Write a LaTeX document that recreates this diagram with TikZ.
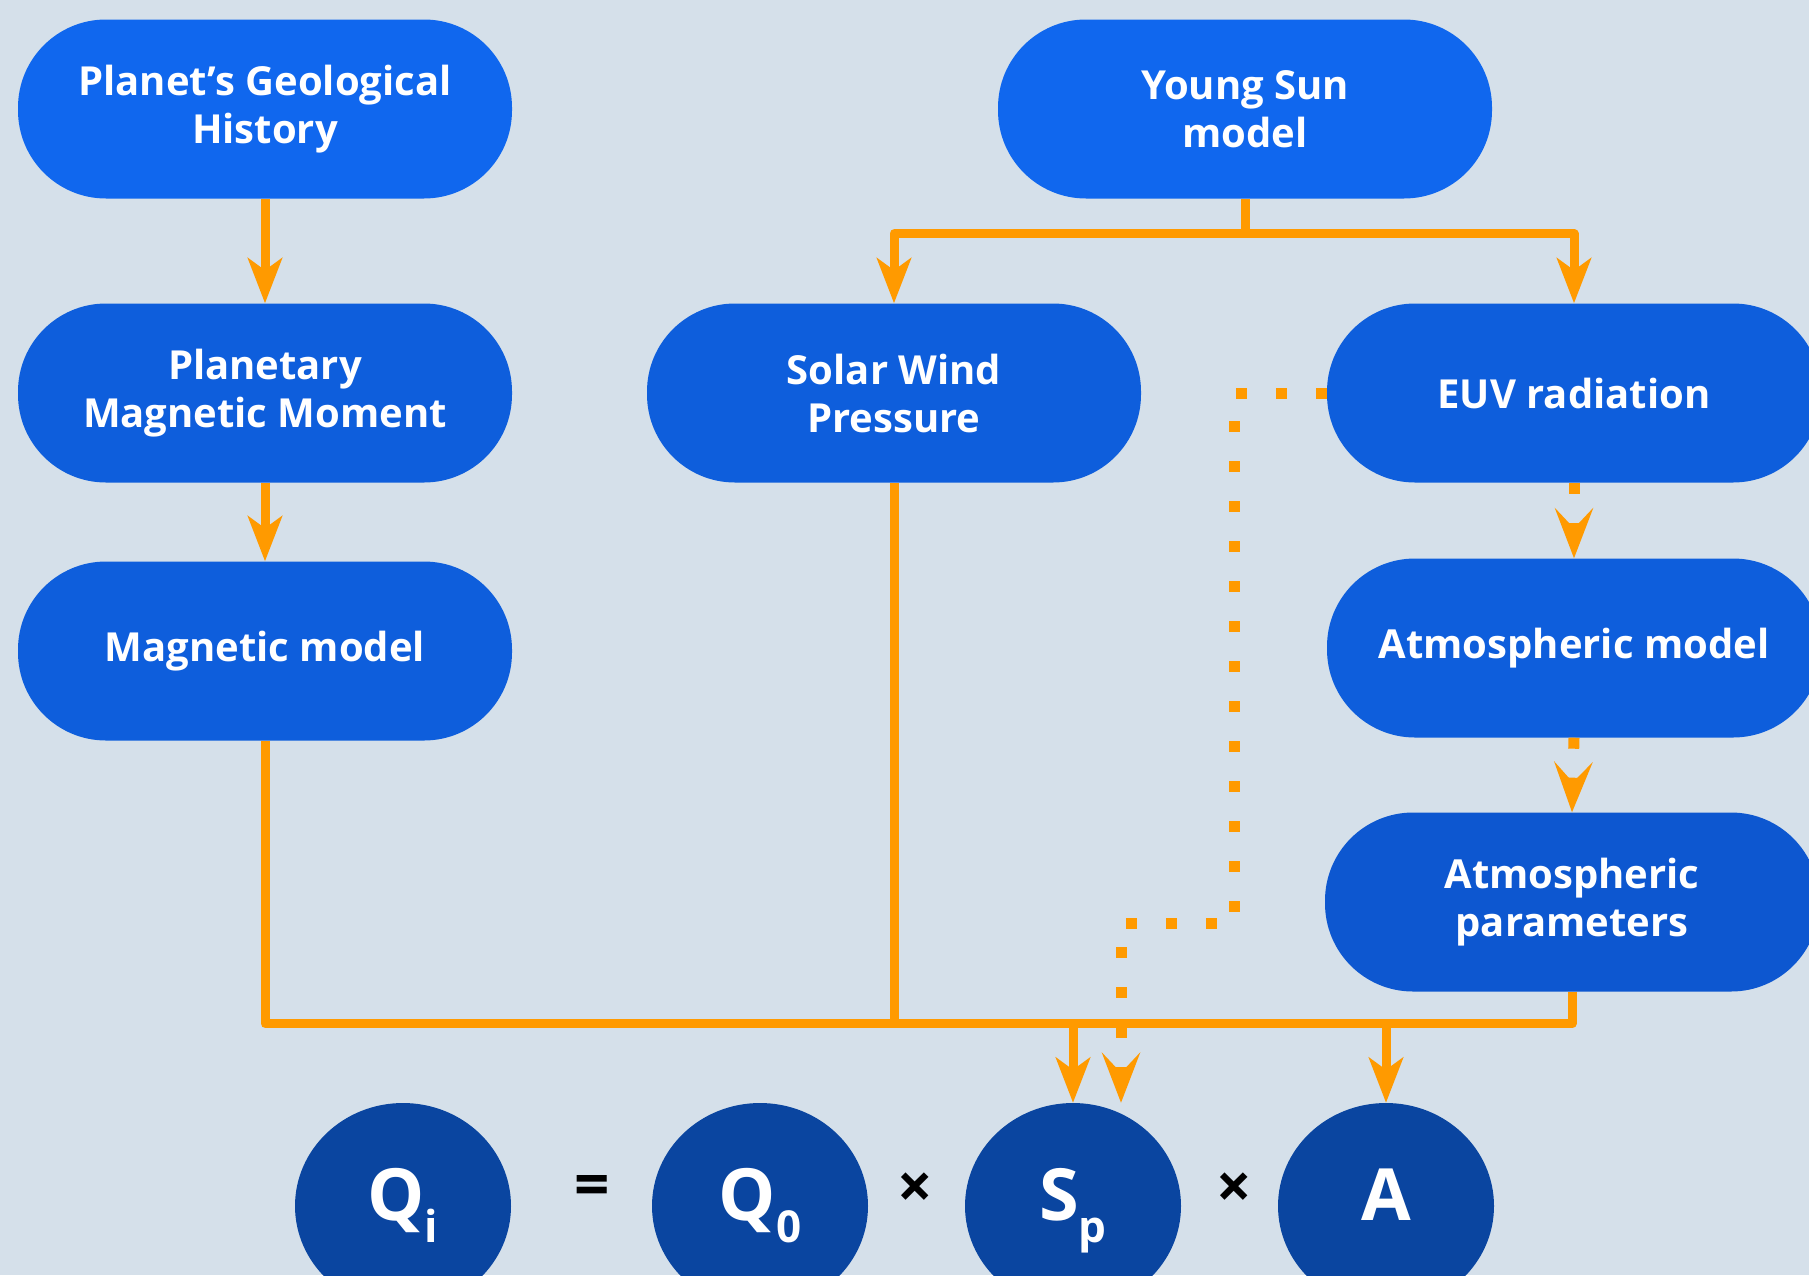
\documentclass[tikz,border=0pt]{standalone}
\usepackage{fontspec}
\setmainfont{Open Sans}
\usetikzlibrary{arrows.meta,calc,shapes.geometric}
\definecolor{bg}{HTML}{D5E0EA}
\definecolor{boxA}{HTML}{1067EE}
\definecolor{boxB}{HTML}{0E5EDC}
\definecolor{boxC}{HTML}{0D57D0}
\definecolor{ell}{HTML}{0A45A0}
\definecolor{org}{HTML}{FF9A00}
\newcommand{\sbs}[1]{\raisebox{-22pt}{\fontsize{44}{44}\selectfont #1}}
\begin{document}
\begin{tikzpicture}[x=1pt,y=-1pt,
  box/.style={rounded corners=88pt, minimum width=494pt, minimum height=179pt,
    text=white, font=\fontsize{40}{48}\selectfont\bfseries, align=center, inner sep=0pt},
  elln/.style={ellipse, fill=ell, minimum width=216pt, minimum height=206pt, inner sep=0pt},
  eltext/.style={text=white, font=\fontsize{72}{72}\selectfont\bfseries, inner sep=0pt},
  opn/.style={text=black, font=\fontsize{62}{62}\selectfont\bfseries},
  line/.style={draw=org, line width=9pt, line join=round},
  conn/.style={line, -{Stealth[length=45pt,width=34pt,inset=12pt]}},
  dotconn/.style={draw=org, line width=11pt, line cap=butt, dash pattern=on 11pt off 29pt,
    -{Stealth[length=50pt,width=38pt,inset=20pt]}}
]
\useasboundingbox (0,0) rectangle (1809,1275);
\fill[bg] (0,0) rectangle (1809,1275);
\clip (0,0) rectangle (1809,1275);

\node[box, fill=boxA] (pgh) at (265,109) {Planet’s Geological\\History};
\node[box, fill=boxB] (pmm) at (265,393) {Planetary\\Magnetic Moment};
\node[box, fill=boxB] (mm) at (265,651) {Magnetic model};
\node[box, fill=boxA] (ys) at (1245,109) {Young Sun\\model};
\node[box, fill=boxB] (swp) at (894,393) {Solar Wind\\Pressure};
\node[box, fill=boxB] (euv) at (1574,393) {EUV radiation};
\node[box, fill=boxB] (atm) at (1574,648) {Atmospheric model};
\node[box, fill=boxC] (atp) at (1572,902) {Atmospheric\\parameters};

\node[elln] (qi) at (403,1206) {};
\node[elln] (q0) at (760,1206) {};
\node[elln] (sp) at (1073,1206) {};
\node[elln] (a) at (1386,1206) {};
\node[eltext, anchor=base] (tqi) at (403,1220) {Q\sbs{i}};
\node[eltext, anchor=base] (tq0) at (760,1220) {Q\sbs{0}};
\node[eltext, anchor=base] (tsp) at (1073,1220) {S\sbs{p}};
\node[eltext, anchor=base] (ta) at (1386,1220) {A};
\node[opn] (eq) at (592,1191) {=};
\node[opn] (x1) at (915,1191) {×};
\node[opn] (x2) at (1234,1191) {×};

% left column
\draw[conn] (pgh.south) -- (pmm.north);
\draw[conn] (pmm.south) -- (mm.north);

% young sun split
\coordinate (ysj) at ($(ys.south)+(0,35)$);
\draw[line] (ys.south) -- (ysj);
\draw[conn] (ysj) -| (swp.north);
\draw[conn] (ysj) -| (euv.north);

% bottom bus
\coordinate (bus) at ($(sp.north)+(0,-79)$);
\draw[conn] (mm.south) |- (bus) -- (sp.north);
\draw[line] (swp.south) -- (swp.south |- bus);
\draw[conn] (atp.south) |- (bus -| a.north) -- (a.north);
\draw[line] (bus -| a.north) -- (bus);

% dotted
\draw[dotconn] (euv.south) -- (atm.north);
\draw[dotconn] (atm.south) -- (atp.north);
\coordinate (d1) at ($(euv.west)+(-92,530)$);
\coordinate (d2) at ($(sp.north)+(48,0)$);
\draw[dotconn] (euv.west) -| (d1) -| (d2);
\end{tikzpicture}
\end{document}
